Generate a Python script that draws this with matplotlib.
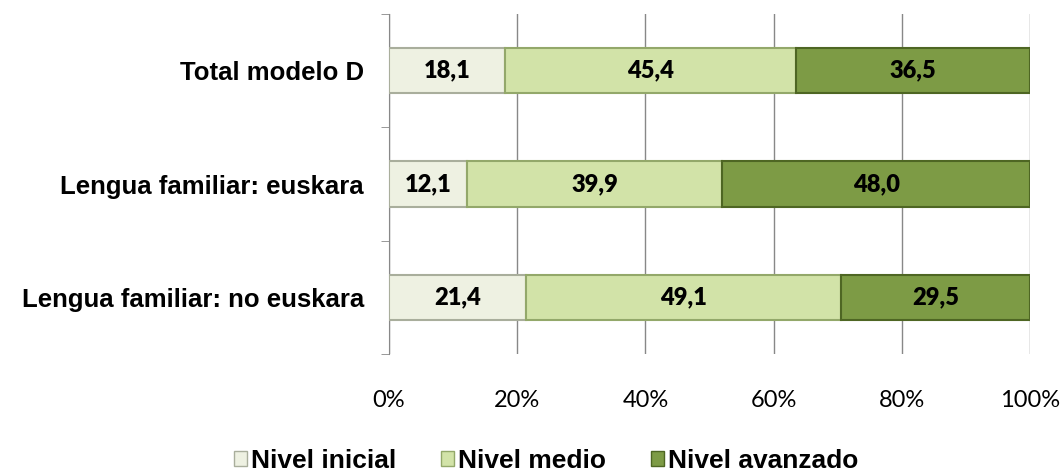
import numpy as np
import matplotlib
matplotlib.use("Agg")
import matplotlib.pyplot as plt
from matplotlib.patches import Patch

categories = ["Lengua familiar: no euskara", "Lengua familiar: euskara", "Total modelo D"]
inicial = [21.4, 12.1, 18.1]
medio = [49.1, 39.9, 45.4]
avanzado = [29.5, 48.0, 36.5]
series_names = ["Nivel inicial", "Nivel medio", "Nivel avanzado"]
colors = ["#EEF1E2", "#D2E3A8", "#7D9B45"]
edges = ["#A9AE9C", "#93A86A", "#4E6623"]

fig = plt.figure(figsize=(10.61, 4.73), dpi=100)
ax = fig.add_axes([389 / 1061, 1 - 354 / 473, 641 / 1061, 340 / 473])

y = np.arange(len(categories))
left = np.zeros(len(categories))
for vals, c, ec, name in zip([inicial, medio, avanzado], colors, edges, series_names):
    vals = np.array(vals)
    ax.barh(y, vals, left=left, height=0.4, color=c, edgecolor=ec,
            linewidth=1.5, zorder=3, label=name)
    for yi, l, v in zip(y, left, vals):
        ax.text(l + v / 2, yi, f"{v:.1f}".replace(".", ","), ha="center", va="center",
                fontsize=17, fontweight="heavy", family="Lato", color="black", zorder=4)
    left += vals

ax.set_xlim(0, 100)
ax.set_ylim(-0.5, 2.5)
ax.set_xticks(np.arange(0, 101, 20))
ax.set_xticklabels([f"{t}%" for t in range(0, 101, 20)], fontsize=17, family="Lato")
ax.tick_params(axis="x", length=0, pad=26)
ax.set_yticks(y)
ax.set_yticklabels(categories, fontsize=18.5, fontweight="bold", family="Liberation Sans")
ax.tick_params(axis="y", length=0, pad=18)
ax.set_yticks([-0.5, 0.5, 1.5, 2.5], minor=True)
ax.tick_params(axis="y", which="minor", length=6, color="#888888", direction="out")
ax.grid(axis="x", color="#888888", linewidth=1, zorder=0)
for s in ["top", "right", "bottom"]:
    ax.spines[s].set_visible(False)
ax.spines["left"].set_color("#888888")

handles = [Patch(facecolor=c, edgecolor=ec, label=n) for c, ec, n in zip(colors, edges, series_names)]
fig.legend(handles=handles, loc="center", bbox_to_anchor=(0.515, 1 - 461 / 473), ncol=3,
           frameon=False, prop={"family": "Liberation Sans", "weight": "bold", "size": 19},
           handlelength=0.5, handleheight=0.5, handletextpad=0.15, columnspacing=1.7)

fig.savefig("out.png", dpi=100)
